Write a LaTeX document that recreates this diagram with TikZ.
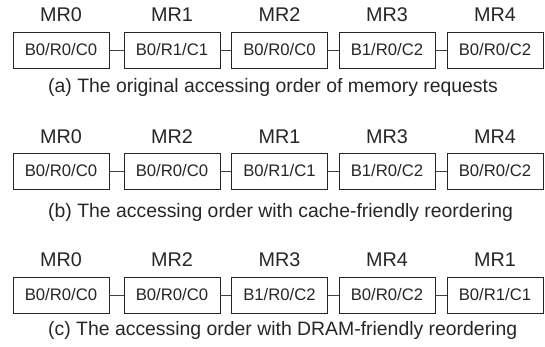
\documentclass[tikz,border=0pt]{standalone}
\usepackage{fontspec}
\setmainfont{Liberation Sans}
\begin{document}
\begin{tikzpicture}[x=1pt,y=-1pt,
  reqbox/.style={draw=black!85,line width=0.9pt,minimum width=96pt,minimum height=36pt,inner sep=0pt,font=\fontsize{16.7}{18}\selectfont,text=black!85},
  mrlabel/.style={font=\fontsize{19.8}{21}\selectfont,text=black!85,inner sep=0pt},
  caplabel/.style={font=\fontsize{19.4}{21}\selectfont,text=black!85,inner sep=0pt,anchor=west},
  link/.style={draw=black!75,line width=0.9pt}]
\useasboundingbox (0,0) rectangle (545,347);
% row a
\foreach \i/\x/\t/\m in {1/61/B0\slash R0\slash C0/MR0,2/172/B0\slash R1\slash C1/MR1,3/279.5/B0\slash R0\slash C0/MR2,4/387/B1\slash R0\slash C2/MR3,5/495/B0\slash R0\slash C2/MR4}{
  \node[reqbox] (a\i) at (\x,50) {\t};
  \node[mrlabel] (am\i) at (\x,15) {\m};
}
\draw[link] (a1) -- (a2); \draw[link] (a2) -- (a3); \draw[link] (a3) -- (a4); \draw[link] (a4) -- (a5);
\node[caplabel] (capa) at (48,87) {(a) The original accessing order of memory requests};
% row b
\foreach \i/\x/\t/\m in {1/61/B0\slash R0\slash C0/MR0,2/172/B0\slash R0\slash C0/MR2,3/279.5/B0\slash R1\slash C1/MR1,4/387/B1\slash R0\slash C2/MR3,5/495/B0\slash R0\slash C2/MR4}{
  \node[reqbox] (b\i) at (\x,171) {\t};
  \node[mrlabel] (bm\i) at (\x,137) {\m};
}
\draw[link] (b1) -- (b2); \draw[link] (b2) -- (b3); \draw[link] (b3) -- (b4); \draw[link] (b4) -- (b5);
\node[caplabel] (capb) at (48,212) {(b) The accessing order with cache-friendly reordering};
% row c
\foreach \i/\x/\t/\m in {1/61/B0\slash R0\slash C0/MR0,2/172/B0\slash R0\slash C0/MR2,3/279.5/B1\slash R0\slash C2/MR3,4/387/B0\slash R0\slash C2/MR4,5/495/B0\slash R1\slash C1/MR1}{
  \node[reqbox] (c\i) at (\x,295) {\t};
  \node[mrlabel] (cm\i) at (\x,260) {\m};
}
\draw[link] (c1) -- (c2); \draw[link] (c2) -- (c3); \draw[link] (c3) -- (c4); \draw[link] (c4) -- (c5);
\node[caplabel] (capc) at (48,330) {(c) The accessing order with DRAM-friendly reordering};
\end{tikzpicture}
\end{document}
